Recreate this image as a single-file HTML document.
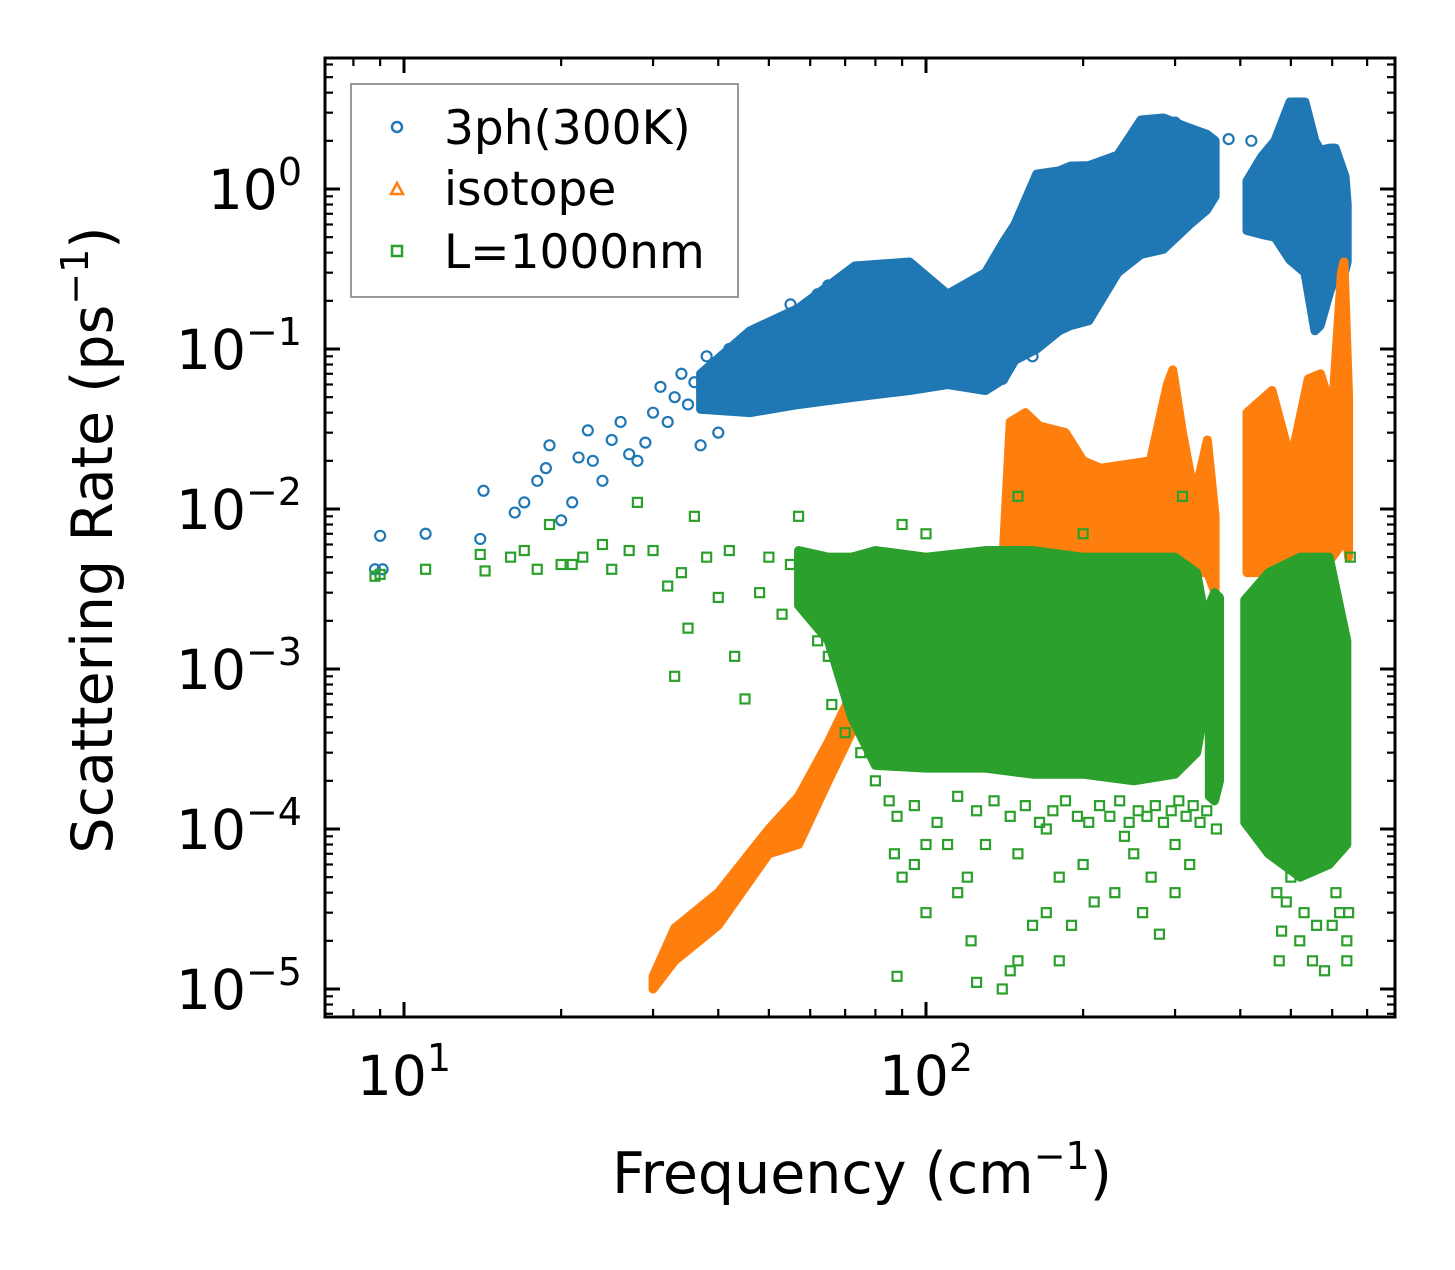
<!DOCTYPE html>
<html><head><meta charset="utf-8"><style>
html,body{margin:0;padding:0;background:#fff}
svg text{font-family:"DejaVu Sans","Liberation Sans",sans-serif}
</style></head><body>
<svg id="chart" width="1455" height="1265" viewBox="0 0 1455 1265" xmlns="http://www.w3.org/2000/svg">
<rect width="1455" height="1265" fill="#fff"/>
<defs><clipPath id="clip"><rect x="325" y="58" width="1070" height="959"/></clipPath></defs>
<g id="plot" clip-path="url(#clip)"></g>
<g id="axes"></g>
<text x="862" y="1193" font-size="57" text-anchor="middle">Frequency (cm<tspan font-size="38" dy="-24">−1</tspan><tspan dy="24">)</tspan></text>
<text transform="translate(112,540) rotate(-90)" font-size="57" text-anchor="middle">Scattering Rate (ps<tspan font-size="38" dy="-24">−1</tspan><tspan dy="24">)</tspan></text>
<g>
<rect x="351" y="84" width="387" height="213" fill="#fff" stroke="#999" stroke-width="2"/>
<circle cx="397" cy="127" r="5" fill="none" stroke="#1f77b4" stroke-width="2.5"/>
<text x="444" y="144" font-size="47">3ph(300K)</text>
<polygon points="397,183 403,194 391,194" fill="none" stroke="#ff7f0e" stroke-width="2.5"/>
<text x="444" y="205" font-size="47">isotope</text>
<rect x="392" y="246" width="10" height="10" fill="none" stroke="#2ca02c" stroke-width="2.5"/>
<text x="444" y="268" font-size="47">L=1000nm</text>
</g>
</svg>
<script>
const xTickDecades = [1, 2];
const yTickDecades = [0, -1, -2, -3, -4, -5];
// dense bands: [freq, low, high]
const blueBandA = [[37,0.042,0.07],[46,0.04,0.13],[57,0.045,0.18],[73,0.05,0.33],[93,0.055,0.35],[110,0.06,0.22],[130,0.055,0.3],[141,0.065,0.47],[148,0.085,0.6],[163,0.1,1.24],[180,0.13,1.3],[189,0.14,1.39],[205,0.15,1.4],[233,0.3,1.63],[258,0.39,2.7],[285,0.42,2.78],[320,0.6,2.4],[345,0.74,2.2],[358,0.9,2.0]];
const blueBandB = [[412,0.55,1.12],[440,0.52,1.6],[466,0.5,2.0],[498,0.36,3.5],[532,0.3,3.5],[556,0.13,2.0],[569,0.14,1.75],[594,0.23,1.8],[608,0.28,1.8],[635,0.31,1.2],[641,0.35,0.8]];
const orangeBandLow = [[30,1.0e-5,1.2e-5],[33,1.5e-5,2.4e-5],[40,2.5e-5,4e-5],[50,7e-5,1e-4],[57,8e-5,1.6e-4],[65,2e-4,3.5e-4],[72,4e-4,7e-4],[80,7e-4,1.2e-3],[90,1e-3,2e-3],[140,1e-3,4e-3]];
const orangeBandA = [[140,0.003,0.004],[145,0.004,0.035],[155,0.004,0.04],[165,0.004,0.033],[185,0.004,0.03],[200,0.004,0.02],[216,0.004,0.018],[269,0.004,0.02],[290,0.004,0.06],[297,0.004,0.074],[310,0.004,0.03],[327,0.004,0.012],[346,0.004,0.027],[358,0.003,0.009]];
const orangeBandB = [[412,0.004,0.04],[460,0.004,0.055],[500,0.004,0.02],[540,0.004,0.065],[570,0.004,0.07],[600,0.005,0.04],[625,0.006,0.3],[632,0.01,0.35],[645,0.005,0.05]];
const greenBandA = [[57,0.0025,0.0055],[65,0.0015,0.005],[72,5e-4,0.005],[80,2.5e-4,0.0055],[100,2.4e-4,0.005],[130,2.4e-4,0.0055],[160,2.2e-4,0.0055],[200,2.2e-4,0.005],[250,2e-4,0.005],[300,2.2e-4,0.005],[330,3e-4,0.004],[343,6e-4,0.002]];
const greenBandC = [[349,1.6e-4,0.0025],[357,1.5e-4,0.003],[365,2e-4,0.0028]];
const greenBandB = [[408,1.1e-4,0.0027],[453,7e-5,0.004],[521,5e-5,0.005],[592,6e-5,0.005],[640,8e-5,0.0015]];
// sparse points: [freq, rate]
const bluePoints = [[8.8,0.0042],[9.0,0.0068],[9.1,0.0042],[11,0.007],[14,0.0065],[14.2,0.013],[16.3,0.0095],[17,0.011],[18,0.015],[18.7,0.018],[19,0.025],[20,0.0085],[21,0.011],[21.6,0.021],[22.5,0.031],[23,0.02],[24,0.015],[25,0.027],[26,0.035],[27,0.022],[28,0.02],[29,0.026],[30,0.04],[31,0.058],[32,0.035],[33,0.05],[34,0.07],[35,0.045],[36,0.062],[37,0.025],[38,0.09],[40,0.03],[42,0.1],[44,0.11],[47,0.12],[52,0.15],[55,0.19],[58,0.13],[60,0.055],[62,0.22],[65,0.25],[90,0.065],[140,0.065],[140,0.1],[160,0.09],[150,0.14],[300,2.6],[380,2.05],[420,2.0],[600,0.3]];
const greenPoints = [[8.8,0.0038],[9,0.0039],[11,0.0042],[14,0.0052],[14.3,0.0041],[16,0.005],[17,0.0055],[18,0.0042],[19,0.008],[20,0.0045],[21,0.0045],[22,0.005],[24,0.006],[25,0.0042],[27,0.0055],[28,0.011],[30,0.0055],[32,0.0033],[33,0.0009],[34,0.004],[35,0.0018],[36,0.009],[38,0.005],[40,0.0028],[42,0.0055],[43,0.0012],[45,0.00065],[48,0.003],[50,0.005],[53,0.0022],[55,0.0045],[57,0.009],[60,0.0035],[62,0.0015],[65,0.0012],[66,0.0006],[70,0.0004],[75,0.0003],[80,0.0002],[85,0.00015],[87,7e-5],[88,1.2e-5],[90,5e-5],[95,6e-5],[100,3e-5],[110,8e-5],[120,5e-5],[125,1.1e-5],[122,2e-5],[140,1e-5],[145,1.3e-5],[150,1.5e-5],[160,2.5e-5],[170,3e-5],[180,1.5e-5],[190,2.5e-5],[210,3.5e-5],[230,4e-5],[260,3e-5],[280,2.2e-5],[300,4e-5],[320,6e-5],[360,1e-4],[355,2e-3],[475,1.5e-5],[480,2.3e-5],[500,5e-5],[520,2e-5],[550,1.5e-5],[580,1.3e-5],[600,2.5e-5],[620,3e-5],[640,2e-5],[645,3e-5],[310,0.012],[150,0.012],[90,0.008],[100,0.007],[200,0.007],[130,8e-5],[170,1e-4],[240,9e-5],[650,0.005],[88,1.2e-4],[95,1.4e-4],[105,1.1e-4],[115,1.6e-4],[125,1.3e-4],[135,1.5e-4],[145,1.2e-4],[155,1.4e-4],[165,1.1e-4],[175,1.3e-4],[185,1.5e-4],[195,1.2e-4],[205,1.1e-4],[215,1.4e-4],[225,1.2e-4],[235,1.5e-4],[245,1.1e-4],[255,1.3e-4],[265,1.2e-4],[275,1.4e-4],[285,1.1e-4],[295,1.3e-4],[305,1.5e-4],[315,1.2e-4],[325,1.4e-4],[335,1.1e-4],[345,1.3e-4],[100,8e-5],[150,7e-5],[200,6e-5],[250,7e-5],[300,8e-5],[180,5e-5],[270,5e-5],[115,4e-5],[490,3.5e-5],[530,3e-5],[560,2.5e-5],[610,4e-5],[470,4e-5],[640,1.5e-5]];

const X0=404, XD=522, Y0=189, YD=160;
const L=325,R=1395,T=58,B=1017;
function xs(v){return X0+(Math.log10(v)-1)*XD;}
function ys(v){return Y0-Math.log10(v)*YD;}
const NS="http://www.w3.org/2000/svg";
const plot=document.getElementById('plot'), axes=document.getElementById('axes');
function mk(tag,attrs,parent){const e=document.createElementNS(NS,tag);for(const k in attrs)e.setAttribute(k,attrs[k]);parent.appendChild(e);return e;}

function band(data,color,name){
  const pts=data.map(d=>xs(d[0])+','+ys(d[2])).concat(data.slice().reverse().map(d=>xs(d[0])+','+ys(d[1])));
  const p=mk('polygon',{points:pts.join(' '),fill:color,stroke:color,'stroke-width':9,'stroke-linejoin':'round'},plot);
  
  
}
function circles(data,name){
  data.forEach(d=>{const c=mk('circle',{cx:xs(d[0]),cy:ys(d[1]),r:5,fill:'none',stroke:'#1f77b4','stroke-width':2.2},plot);
  
  });
}
function squares(data,name){
  data.forEach(d=>{const c=mk('rect',{x:xs(d[0])-4.5,y:ys(d[1])-4.5,width:9,height:9,fill:'none',stroke:'#2ca02c','stroke-width':2.2},plot);
  
  });
}
band(blueBandA,'#1f77b4','3ph-band-low-freq');
band(blueBandB,'#1f77b4','3ph-band-high-freq');
circles(bluePoints,'3ph-point');
band(orangeBandLow,'#ff7f0e','isotope-band-acoustic');
band(orangeBandA,'#ff7f0e','isotope-band-mid');
band(orangeBandB,'#ff7f0e','isotope-band-high');
band(greenBandA,'#2ca02c','boundary-band-mid');
band(greenBandC,'#2ca02c','boundary-band-lobe');
band(greenBandB,'#2ca02c','boundary-band-high');
squares(greenPoints,'boundary-point');

const sp=mk('rect',{x:L,y:T,width:R-L,height:B-T,fill:'none',stroke:'#000','stroke-width':3},axes);


function tick(x1,y1,x2,y2,w){mk('line',{x1,y1,x2,y2,stroke:'#000','stroke-width':w},axes);}
for(let d=0;d<=2;d++){for(let m=1;m<=9;m++){const v=m*Math.pow(10,d);const x=xs(v);if(x<L||x>R)continue;
  const len=m===1?15:8,w=m===1?3:2.2;tick(x,B,x,B-len,w);tick(x,T,x,T+len,w);}}
xTickDecades.forEach(d=>{const t=mk('text',{x:xs(Math.pow(10,d)),y:1095,'font-size':55,'text-anchor':'middle'},axes);
  
  
  t.innerHTML='10<tspan font-size="38" dy="-24">'+d+'</tspan>';});
for(let d=-6;d<=0;d++){for(let m=1;m<=9;m++){const v=m*Math.pow(10,d);const y=ys(v);if(y<T||y>B)continue;
  const len=m===1?15:8,w=m===1?3:2.2;tick(L,y,L+len,y,w);tick(R,y,R-len,y,w);}}
yTickDecades.forEach(d=>{const t=mk('text',{x:302,y:ys(Math.pow(10,d))+20,'font-size':55,'text-anchor':'end'},axes);
  
  
  t.innerHTML='10<tspan font-size="38" dy="-24">'+(d===0?'0':'−'+(-d))+'</tspan>';});
</script>
</body></html>
